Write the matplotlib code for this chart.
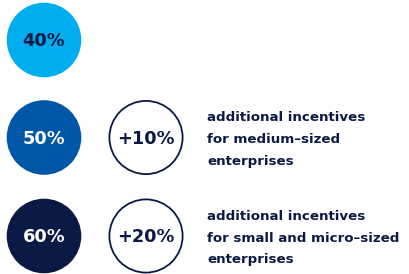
import matplotlib.pyplot as plt
from matplotlib.patches import Circle

# data
base_rates = ["40%", "50%", "60%"]
extra_rates = [None, "+10%", "+20%"]
descriptions = [
    None,
    "additional incentives\nfor medium\u2013sized\nenterprises",
    "additional incentives\nfor small and micro\u2013sized\nenterprises",
]
fill_colors = ["#00aeef", "#0057a8", "#0b1a45"]
label_colors = ["#0b1a45", "white", "white"]
navy = "#0b1a45"

fig = plt.figure(figsize=(4.09, 2.74), dpi=100)
ax = fig.add_axes([0, 0, 1, 1])
ax.set_xlim(0, 409)
ax.set_ylim(274, 0)
ax.set_aspect("equal")
ax.axis("off")

row_y = [40, 137.5, 236]
r = 37.3
font = "DejaVu Sans"

for i, y in enumerate(row_y):
    ax.add_patch(Circle((44, y), r, facecolor=fill_colors[i], edgecolor="none"))
    ax.text(44, y + 1, base_rates[i], ha="center", va="center", fontsize=12.8,
            fontweight="bold", color=label_colors[i], family=font)
    if extra_rates[i] is not None:
        ax.add_patch(Circle((146, y), r - 0.7, facecolor="white",
                            edgecolor=navy, linewidth=1.3))
        ax.text(146, y + 1, extra_rates[i], ha="center", va="center",
                fontsize=12.8, fontweight="bold", color=navy, family=font)
        ax.text(207, y + 2, descriptions[i], ha="left", va="center",
                fontsize=9.6, fontweight="bold", color=navy, family=font,
                linespacing=1.9)

fig.savefig("out.png", dpi=100)
